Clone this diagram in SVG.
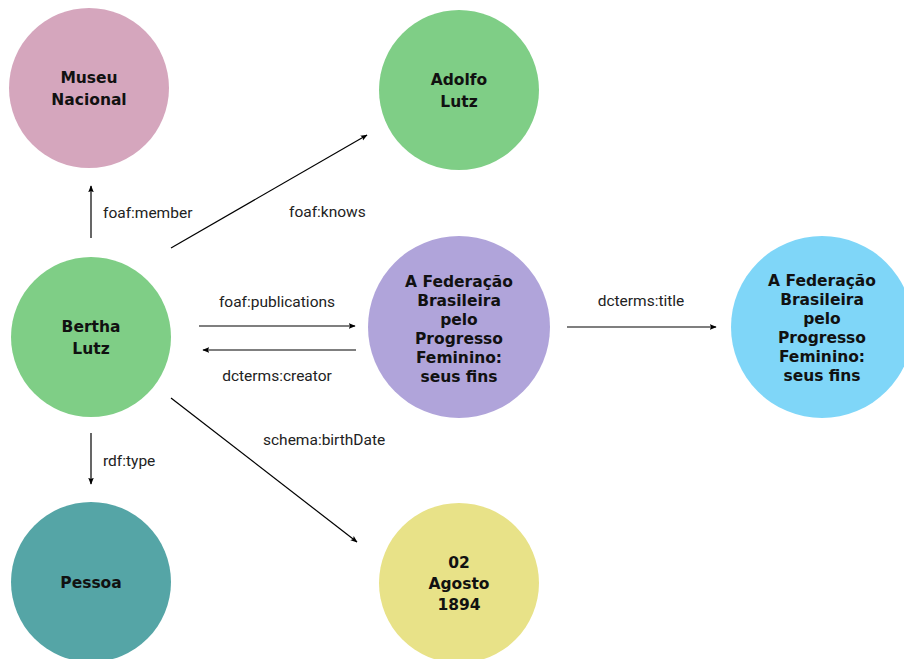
<svg xmlns="http://www.w3.org/2000/svg" width="904" height="659" viewBox="0 0 904 659">
  <style>
    .node-label { font-family: "DejaVu Sans", "Liberation Sans", sans-serif; font-size: 15.5px; font-weight: 700; fill: #111; text-anchor: middle; }
    .edge { stroke: #000; stroke-width: 1.2; fill: none; marker-end: url(#arrow); }
    .edge-label { font-family: Roboto, "Liberation Sans", sans-serif; font-size: 15.5px; fill: #222; }
  </style>
  <defs>
    <marker id="arrow" viewBox="0 0 10 10" refX="9" refY="5" markerWidth="7" markerHeight="7" markerUnits="userSpaceOnUse" orient="auto">
      <path d="M0,1 L10,5 L0,9 L2,5 Z" fill="#000"/>
    </marker>
  </defs>
  <rect width="904" height="659" fill="#fff"/>

  <!-- connectors -->
  <g id="edges">
    <line class="edge" x1="91" y1="238" x2="91" y2="186"/>
    <line class="edge" x1="171" y1="248" x2="367" y2="135"/>
    <line class="edge" x1="199" y1="326" x2="355" y2="326"/>
    <line class="edge" x1="356" y1="350" x2="203" y2="350"/>
    <line class="edge" x1="567" y1="327" x2="716" y2="327"/>
    <line class="edge" x1="171" y1="398" x2="357" y2="542"/>
    <line class="edge" x1="91" y1="433" x2="91" y2="484"/>
    <text class="edge-label" x="103" y="218">foaf:member</text>
    <text class="edge-label" x="289" y="217">foaf:knows</text>
    <text class="edge-label" x="277" y="307" text-anchor="middle">foaf:publications</text>
    <text class="edge-label" x="277" y="381" text-anchor="middle">dcterms:creator</text>
    <text class="edge-label" x="641" y="306" text-anchor="middle">dcterms:title</text>
    <text class="edge-label" x="263" y="445">schema:birthDate</text>
    <text class="edge-label" x="103" y="466">rdf:type</text>
  </g>

  <g id="museu-nacional">
    <circle cx="89" cy="88" r="80" fill="#d5a6bd"/>
    <text class="node-label" x="89" y="83">Museu</text>
    <text class="node-label" x="89" y="105">Nacional</text>
  </g>

  <g id="adolfo-lutz">
    <circle cx="459" cy="90" r="80" fill="#7fce86"/>
    <text class="node-label" x="459" y="85">Adolfo</text>
    <text class="node-label" x="459" y="107">Lutz</text>
  </g>

  <g id="bertha-lutz">
    <circle cx="91" cy="337" r="80" fill="#7fce86"/>
    <text class="node-label" x="91" y="332">Bertha</text>
    <text class="node-label" x="91" y="354">Lutz</text>
  </g>

  <g id="publicacao">
    <circle cx="459" cy="327" r="91" fill="#b0a4da"/>
    <text class="node-label" x="459" y="287">A Federação</text>
    <text class="node-label" x="459" y="306">Brasileira</text>
    <text class="node-label" x="459" y="325">pelo</text>
    <text class="node-label" x="459" y="344">Progresso</text>
    <text class="node-label" x="459" y="363">Feminino:</text>
    <text class="node-label" x="459" y="382">seus fins</text>
  </g>

  <g id="titulo">
    <circle cx="822" cy="327" r="91" fill="#7fd6f8"/>
    <text class="node-label" x="822" y="286">A Federação</text>
    <text class="node-label" x="822" y="305">Brasileira</text>
    <text class="node-label" x="822" y="324">pelo</text>
    <text class="node-label" x="822" y="343">Progresso</text>
    <text class="node-label" x="822" y="362">Feminino:</text>
    <text class="node-label" x="822" y="381">seus fins</text>
  </g>

  <g id="pessoa">
    <circle cx="91" cy="582" r="80" fill="#55a5a6"/>
    <text class="node-label" x="91" y="588">Pessoa</text>
  </g>

  <g id="data-nascimento">
    <circle cx="459" cy="583" r="80" fill="#e8e288"/>
    <text class="node-label" x="459" y="568">02</text>
    <text class="node-label" x="459" y="589">Agosto</text>
    <text class="node-label" x="459" y="610">1894</text>
  </g>
</svg>
